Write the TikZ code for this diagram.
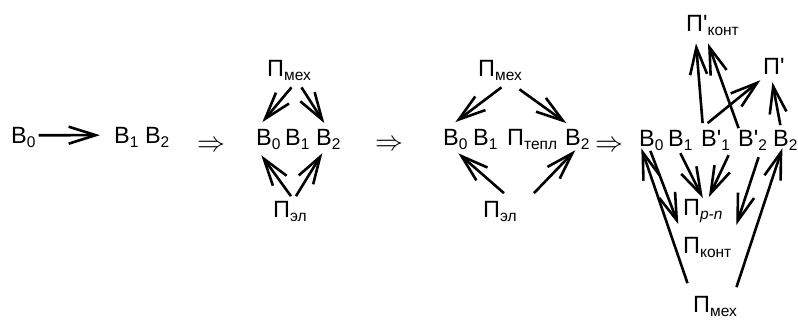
\documentclass[tikz,border=0pt]{standalone}
\usepackage{fix-cm}
\usepackage{fontspec}
\setmainfont{Liberation Sans}
\usetikzlibrary{arrows.meta}
\newcommand\sbs[1]{\raisebox{-3.5pt}{\fontsize{15.5}{15.5}\selectfont #1}}
\begin{document}
\begin{tikzpicture}[x=1pt,y=-1pt,>={Straight Barb[length=27pt,width=17pt]}]
\path[fill=white] (0,0) rectangle (798,320);
\tikzset{lbl/.style={anchor=base west,inner sep=0pt,font=\fontsize{23.5}{23.5}\selectfont},arr/.style={draw=black,line width=2.6pt,->},impl/.style={inner sep=0pt,font=\fontsize{28}{28}\selectfont}}
\node[lbl] (b0a) at (11,144) {В\sbs{0}};
\node[lbl] (b12a) at (114,144) {В\sbs{1} В\sbs{2}};
\draw[arr] ([shift={(3,-2.5)}]b0a.east) -- ([shift={(-14,-2.5)}]b12a.west);
\node[impl] (imp1) at (211,146) {$\Rightarrow$};
\node[lbl] (mex2) at (267,77) {П\sbs{мех}};
\node[lbl] (b0b) at (256,146) {В\sbs{0}};
\node[lbl] (b1b) at (285,146) {В\sbs{1}};
\node[lbl] (b2b) at (316,146) {В\sbs{2}};
\node[lbl] (el2) at (273,218) {П\sbs{эл}};
\draw[arr] ([shift={(2.5,6.5)}]mex2.south) -- ([shift={(-6,-7.5)}]b0b.north);
\draw[arr] ([shift={(12.5,6.5)}]mex2.south) -- ([shift={(-4,-6.5)}]b2b.north);
\draw[arr] ([shift={(1,-5.5)}]el2.north) -- ([shift={(-7,5.5)}]b0b.south);
\draw[arr] ([shift={(6,-5.5)}]el2.north) -- ([shift={(-6,3.5)}]b2b.south);
\node[impl] (imp2) at (389,145) {$\Rightarrow$};
\node[lbl] (mex3) at (478,77) {П\sbs{мех}};
\node[lbl] (b0c) at (443,146) {В\sbs{0}};
\node[lbl] (b1c) at (473,146) {В\sbs{1}};
\node[lbl] (tepl) at (507,146) {П\sbs{тепл}};
\node[lbl] (b2c) at (565,146) {В\sbs{2}};
\node[lbl] (el3) at (483,218) {П\sbs{эл}};
\draw[arr] ([shift={(1.5,6.5)}]mex3.south) -- ([shift={(0,-7.5)}]b0c.north);
\draw[arr] ([shift={(19.5,8.5)}]mex3.south) -- ([shift={(-11,-6.5)}]b2c.north);
\draw[arr] ([shift={(4,-8.5)}]el3.north) -- ([shift={(3,3.5)}]b0c.south);
\draw[arr] ([shift={(34,-8.5)}]el3.north) -- ([shift={(-2,0.5)}]b2c.south);
\node[impl] (imp3) at (609,146) {$\Rightarrow$};
\node[lbl] (b0d) at (639,147) {В\sbs{0}};
\node[lbl] (b1d) at (668,147) {В\sbs{1}};
\node[lbl] (b1p) at (701,147) {В\textquotesingle\sbs{1}};
\node[lbl] (b2p) at (738,147) {В\textquotesingle\sbs{2}};
\node[lbl] (b2d) at (773,147) {В\sbs{2}};
\node[lbl] (kontp) at (686,32) {П\textquotesingle\sbs{конт}};
\node[lbl] (pp) at (763,75) {П\textquotesingle};
\node[lbl] (pn) at (683,216) {П\sbs{\itshape p-n}};
\node[lbl] (kont) at (683,254) {П\sbs{конт}};
\node[lbl] (mex4) at (693,313) {П\sbs{мех}};
\draw[arr] ([shift={(-13,-7.5)}]b1p.north) -- ([shift={(-16.5,7.5)}]kontp.south);
\draw[arr] ([shift={(-14,-2.5)}]b2p.north) -- ([shift={(-4.5,7.5)}]kontp.south);
\draw[arr] ([shift={(-8,-7.5)}]b1p.north) -- ([shift={(-13.5,5)}]pp.south);
\draw[arr] ([shift={(-5,-5.5)}]b2d.north) -- ([shift={(-1.5,7)}]pp.south);
\draw[arr] ([shift={(-27.5,-13.5)}]mex4.north) -- ([shift={(-10,-2.5)}]b0d.south);
\draw[arr] ([shift={(-1,0)}]b0d.south) -- ([shift={(-29,-13.5)}]kont.north);
\draw[arr] ([shift={(0,2.5)}]b1d.south) -- ([shift={(0,-1.5)}]pn.north);
\draw[arr] ([shift={(13,4.5)}]b1p.south) -- ([shift={(6,-2.5)}]pn.north);
\draw[arr] ([shift={(6,6.5)}]b2p.south) -- ([shift={(29,-12.5)}]kont.north);
\draw[arr] ([shift={(21.5,-9.5)}]mex4.north) -- ([shift={(-3,-2.5)}]b2d.south);
\end{tikzpicture}
\end{document}
